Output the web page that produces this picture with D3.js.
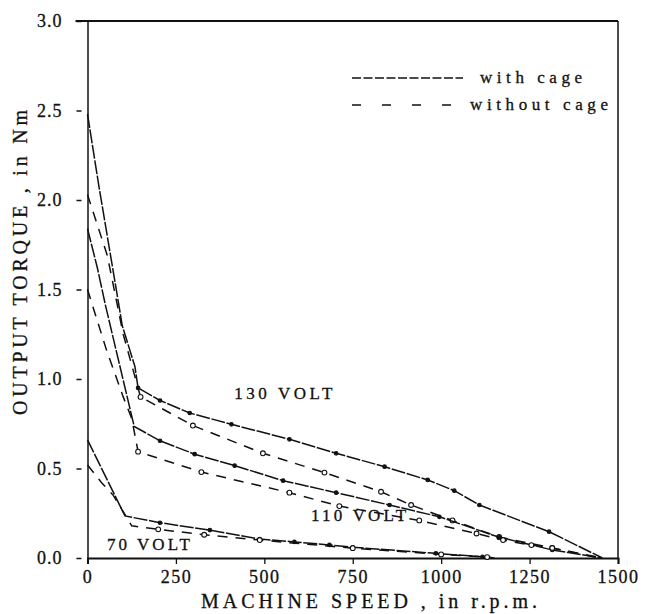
<!DOCTYPE html>
<html>
<head>
<meta charset="utf-8">
<script src="https://cdn.jsdelivr.net/npm/d3@7"></script>
<style>
  body { margin: 0; background: #fff; }
  text { font-family: "Liberation Serif", "DejaVu Serif", serif; fill: #111; stroke: #111; stroke-width: 0.3px; }
</style>
</head>
<body>
<div id="chart"></div>
<script>
// values (speed in rpm, torque in Nm)
let v130Cage = [[0, 2.48], [32, 2.08], [89, 1.41], [98, 1.30], [134, 1.07], [143, 0.95], [205, 0.88], [289, 0.81], [407, 0.747], [571, 0.663], [703, 0.585], [840, 0.51], [962, 0.436], [1037, 0.376], [1108, 0.296], [1305, 0.147], [1456, 0]]
let v130NoCage = [[0, 2.03], [56, 1.69], [101, 1.25], [150, 0.90], [298, 0.74], [496, 0.585], [670, 0.477], [830, 0.37], [915, 0.296], [1032, 0.21], [1164, 0.117], [1314, 0.056], [1455, 0]]
let v110Cage = [[0, 1.84], [28, 1.62], [51, 1.41], [132, 0.735], [205, 0.655], [303, 0.58], [416, 0.516], [553, 0.432], [703, 0.365], [854, 0.296], [995, 0.23], [1164, 0.116], [1314, 0.045], [1455, 0]]
let v110NoCage = [[0, 1.50], [54, 1.16], [101, 0.90], [125, 0.78], [143, 0.594], [322, 0.48], [571, 0.365], [712, 0.29], [938, 0.21], [1100, 0.137], [1175, 0.10], [1255, 0.072], [1314, 0.056], [1446, 0]]
let v70Cage = [[0, 0.66], [106, 0.235], [205, 0.197], [346, 0.156], [487, 0.106], [585, 0.09], [684, 0.073], [750, 0.06], [985, 0.026], [1117, 0.007], [1150, 0]]
let v70NoCage = [[0, 0.52], [40, 0.42], [73, 0.35], [125, 0.18], [200, 0.16], [330, 0.13], [487, 0.10], [750, 0.055], [1000, 0.02], [1130, 0.005], [1150, 0]]

let xTicks = [0, 250, 500, 750, 1000, 1250, 1500]
let yTicks = [0, 0.5, 1.0, 1.5, 2.0, 2.5, 3.0]

let curveLabels = [
    { text: "130 VOLT", x: 415, y: 0.89, len: 98 },
    { text: "110 VOLT", x: 632, y: 0.205, len: 95 },
    { text: "70 VOLT", x: 55, y: 0.045, len: 83 }
]

let cageDash = "14,1.6"
let noCageDash = "10,8"

let series = [
    { data: v130Cage, cage: true },
    { data: v130NoCage, cage: false },
    { data: v110Cage, cage: true },
    { data: v110NoCage, cage: false },
    { data: v70Cage, cage: true },
    { data: v70NoCage, cage: false }
]

let margin = { top: 21, right: 27, bottom: 56, left: 87.5 }
let W = 645, H = 614

let svg = d3.select("#chart")
    .append("svg")
    .attr("width", W)
    .attr("height", H)

let xScale = d3.scaleLinear()
    .domain([0, 1500])
    .range([margin.left, W - margin.right])

let yScale = d3.scaleLinear()
    .domain([0, 3])
    .range([H - margin.bottom, margin.top])

// frame: top line runs a bit past the axis like in the scan
svg.append("line")
    .attr("x1", margin.left - 12).attr("x2", W - margin.right)
    .attr("y1", yScale(3)).attr("y2", yScale(3))
    .attr("stroke", "#111").attr("stroke-width", 1.8)
svg.append("line")
    .attr("x1", W - margin.right).attr("x2", W - margin.right)
    .attr("y1", yScale(3)).attr("y2", yScale(0))
    .attr("stroke", "#111").attr("stroke-width", 1.5)

let xAxis = svg.append("g")
    .attr("transform", "translate(0," + yScale(0) + ")")
    .call(d3.axisBottom(xScale).tickValues(xTicks).tickSize(6).tickPadding(6).tickFormat(d3.format("d")))
xAxis.select(".domain").attr("stroke", "#111").attr("stroke-width", 2)
xAxis.selectAll(".tick line").attr("stroke", "#111").attr("stroke-width", 1.3)
xAxis.selectAll(".tick text")
    .style("font-size", "18px")
    .style("letter-spacing", "1.5px")
    .attr("fill", "#111")

let yAxis = svg.append("g")
    .attr("transform", "translate(" + margin.left + ",0)")
    .call(d3.axisLeft(yScale).tickValues(yTicks).tickSize(0).tickPadding(25).tickFormat(d3.format(".1f")))
yAxis.select(".domain").attr("stroke", "#111").attr("stroke-width", 1.5)
yAxis.selectAll(".tick").append("line")
    .attr("x1", -11).attr("x2", -6)
    .attr("stroke", "#111").attr("stroke-width", 1.5)
yAxis.selectAll(".tick text")
    .style("font-size", "18px")
    .style("letter-spacing", "1px")
    .attr("fill", "#111")

let line = d3.line()
    .x(d => xScale(d[0]))
    .y(d => yScale(d[1]))

series.forEach(s => {
    svg.append("path")
        .datum(s.data)
        .attr("d", line)
        .attr("fill", "none")
        .attr("stroke", "#111")
        .attr("stroke-width", 1.5)
        .attr("stroke-dasharray", s.cage ? cageDash : noCageDash)

    // measured points, skipping the ends on the axes
    svg.append("g")
        .selectAll("circle")
        .data(s.data.slice(1, -1).filter(d => d[0] >= 140))
        .enter()
        .append("circle")
        .attr("cx", d => xScale(d[0]))
        .attr("cy", d => yScale(d[1]))
        .attr("r", s.cage ? 1.8 : 2.4)
        .attr("fill", s.cage ? "#111" : "#fff")
        .attr("stroke", "#111")
        .attr("stroke-width", 1.1)
})

svg.selectAll(".curveLabel")
    .data(curveLabels)
    .enter()
    .append("text")
    .attr("class", "curveLabel")
    .attr("x", d => xScale(d.x))
    .attr("y", d => yScale(d.y))
    .attr("textLength", d => d.len)
    .attr("lengthAdjust", "spacing")
    .style("font-size", "17px")
    .text(d => d.text)

// legend
let legend = svg.append("g")
let legendItems = [
    { text: "with cage", dash: "9,2.5", y: 78, x2: 463, tx: 480, len: 102 },
    { text: "without cage", dash: "9,21", y: 105, x2: 456, tx: 470, len: 138 }
]
legendItems.forEach(d => {
    legend.append("line")
        .attr("x1", 352).attr("x2", d.x2)
        .attr("y1", d.y).attr("y2", d.y)
        .attr("stroke", "#111").attr("stroke-width", 1.4)
        .attr("stroke-dasharray", d.dash)
    legend.append("text")
        .attr("x", d.tx)
        .attr("y", d.y + 5)
        .attr("textLength", d.len)
        .attr("lengthAdjust", "spacing")
        .style("font-size", "17px")
        .text(d.text)
})

svg.append("text")
    .attr("x", 201)
    .attr("y", 608)
    .attr("textLength", 336)
    .attr("lengthAdjust", "spacing")
    .style("font-size", "20px")
    .text("MACHINE SPEED , in r.p.m.")

svg.append("text")
    .attr("transform", "translate(27,415) rotate(-90)")
    .attr("textLength", 305)
    .attr("lengthAdjust", "spacing")
    .style("font-size", "20px")
    .text("OUTPUT TORQUE , in Nm")
</script>
</body>
</html>
